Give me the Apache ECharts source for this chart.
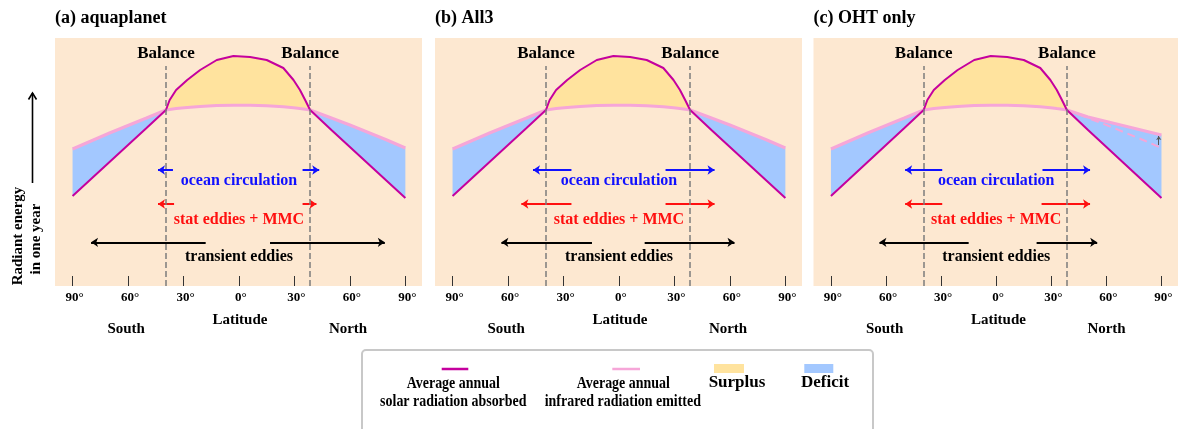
<!DOCTYPE html>
<html>
<head>
<meta charset="utf-8">
<script src="https://cdn.jsdelivr.net/npm/echarts@6/dist/echarts.min.js"></script>
<style>
  html, body { margin: 0; padding: 0; background: #fff; }
  #main { width: 1178px; height: 429px; }
</style>
</head>
<body>
<div id="main"></div>
<script>
// latitude samples (deg, south negative) shared by every curve
const latitudes = [-90, -80, -70, -60, -50, -39.5, -37.5, -34, -28, -21, -12, -3, 6, 15, 24, 29.5, 33, 35.8, 38.5, 50, 60, 70, 80, 90];
// schematic radiant energy (arbitrary units)
const solarAbsorbed   = [90, 107, 124, 141, 158, 176, 186, 196, 206, 216, 226, 230, 229, 226, 218, 206, 196, 186, 176, 156, 139, 122, 105, 88];
const infraredEmitted = [137, 145, 153, 160.5, 168, 176, 176.6, 177.4, 178.6, 179.6, 180.4, 180.8, 180.8, 180.2, 179.2, 178.3, 177.4, 176.7, 176, 168, 161, 153.5, 146, 138];
// OHT only: emission raised in the northern high latitudes
const infraredOHT     = [137, 145, 153, 160.5, 168, 176, 176.6, 177.4, 178.6, 179.6, 180.4, 180.8, 180.8, 180.2, 179.2, 178.3, 177.4, 176.7, 176, 169, 164.5, 160, 155.5, 151];

const tickLats = [-90, -60, -30, 0, 30, 60, 90];
const balanceLats = [-39.5, 38.5];
const panelTitles = ['(a) aquaplanet', '(b) All3', '(c) OHT only'];

// transport arrows [from, to] in latitude, per panel: [south, north]
const oceanArrows = [
  [[-35.7, -43.8], [34.4, 43.4]],
  [[-25.7, -46.5], [25.2, 51.7]],
  [[-29.4, -49.6], [25.2, 51.1]]
];
const eddyArrows = [
  [[-35.1, -43.8], [34.4, 41.9]],
  [[-25.7, -52.8], [25.2, 51.7]],
  [[-29.4, -49.6], [24.7, 51.1]]
];
const transientArrows = [
  [[-18, -80], [16.8, 78.9]],
  [[-14.6, -63.6], [13.9, 62.5]],
  [[-15, -63.6], [22, 55]]
];
const arrowLevels = { ocean: 116, eddy: 82, transient: 43.7 };
const textLevels = { ocean: 105, eddy: 66, transient: 28.7 };

const SERIF = '"Liberation Serif", "Times New Roman", serif';
const C_SOLAR = '#C5009E';
const C_IR = '#F6A6D8';
const C_SURPLUS = '#FFE39E';
const C_DEFICIT = '#A3C8FF';
const C_BG = '#FDE8D1';

const gridLefts = [55, 435, 813.5];
const gridTop = 38, gridWidth = 367, gridHeight = 248;
const xMin = -99.5, xMax = 99;
const pxPerDeg = gridWidth / (xMax - xMin);

const chart = echarts.init(document.getElementById('main'));

function zip(xs, ys) {
  return xs.map((x, i) => [x, ys[i]]);
}

function fillSeries(gi, upper, lower, color) {
  return {
    type: 'custom',
    xAxisIndex: gi,
    yAxisIndex: gi,
    silent: true,
    z: 1,
    data: [0],
    renderItem: function (params, api) {
      const pts = [];
      for (let i = 0; i < latitudes.length; i++) pts.push(api.coord([latitudes[i], upper[i]]));
      for (let i = latitudes.length - 1; i >= 0; i--) pts.push(api.coord([latitudes[i], lower[i]]));
      return { type: 'polygon', shape: { points: pts }, style: { fill: color } };
    }
  };
}

// text placed at a data position
function labelSeries(gi, items) {
  return {
    type: 'custom',
    xAxisIndex: gi,
    yAxisIndex: gi,
    silent: true,
    z: 5,
    data: items.map(t => [t.lat, t.value]),
    renderItem: function (params, api) {
      const p = api.coord([api.value(0), api.value(1)]);
      const t = items[params.dataIndex];
      return {
        type: 'text', x: p[0], y: p[1],
        style: { text: t.text, fill: t.color, fontFamily: SERIF, fontWeight: 'bold', fontSize: 16, align: 'center', verticalAlign: 'middle' }
      };
    }
  };
}

const grids = [], xAxes = [], yAxes = [], series = [], graphics = [];

for (let gi = 0; gi < 3; gi++) {
  const ir = gi === 2 ? infraredOHT : infraredEmitted;
  grids.push({
    left: gridLefts[gi], top: gridTop, width: gridWidth, height: gridHeight,
    show: true, backgroundColor: C_BG, borderWidth: 0
  });
  xAxes.push({
    type: 'value', gridIndex: gi, min: xMin, max: xMax, position: 'bottom',
    splitLine: { show: false },
    axisLine: { show: false },
    axisTick: { show: true, inside: true, length: 10, customValues: tickLats, lineStyle: { color: '#333', width: 1 } },
    axisLabel: {
      customValues: tickLats, margin: 5, padding: [0, 0, 0, 4],
      formatter: v => Math.abs(v) + '°',
      color: '#000', fontFamily: SERIF, fontWeight: 'bold', fontSize: 13
    }
  });
  yAxes.push({ type: 'value', gridIndex: gi, min: 0, max: 248, show: false });

  const upperS = solarAbsorbed.map((s, i) => Math.max(s, ir[i]));
  const lowerD = solarAbsorbed.map((s, i) => Math.min(s, ir[i]));
  series.push(fillSeries(gi, upperS, ir, C_SURPLUS));
  series.push(fillSeries(gi, ir, lowerD, C_DEFICIT));

  if (gi === 2) {
    // original emission curve, dashed
    const k = latitudes.indexOf(38.5);
    series.push({
      type: 'line', xAxisIndex: gi, yAxisIndex: gi, silent: true, z: 2,
      data: zip(latitudes.slice(k), infraredEmitted.slice(k)),
      symbol: 'none',
      lineStyle: { color: C_IR, width: 2, type: [8, 5] }
    });
    series.push({
      type: 'lines', coordinateSystem: 'cartesian2d', xAxisIndex: gi, yAxisIndex: gi, silent: true, z: 4,
      symbol: ['none', 'arrow'], symbolSize: 4,
      lineStyle: { width: 1, opacity: 1, color: '#555' },
      data: [{ coords: [[88.5, 141], [88.5, 150]] }]
    });
  }

  series.push({
    type: 'line', xAxisIndex: gi, yAxisIndex: gi, silent: true, z: 3,
    data: zip(latitudes, ir), symbol: 'none',
    lineStyle: { color: C_IR, width: 3 }
  });
  series.push({
    type: 'line', xAxisIndex: gi, yAxisIndex: gi, silent: true, z: 3,
    data: zip(latitudes, solarAbsorbed), symbol: 'none',
    lineStyle: { color: C_SOLAR, width: 2 },
    markLine: {
      silent: true, symbol: 'none', animation: false,
      lineStyle: { color: '#7c7c7c', type: [6, 3], width: 1.5 },
      label: {
        show: true, position: 'end', formatter: 'Balance', distance: 4,
        color: '#000', fontFamily: SERIF, fontWeight: 'bold', fontSize: 17
      },
      data: balanceLats.map(l => [{ coord: [l, 0] }, { coord: [l, 220] }])
    }
  });

  const arrows = [];
  oceanArrows[gi].forEach(a => arrows.push({ coords: [[a[0], arrowLevels.ocean], [a[1], arrowLevels.ocean]], lineStyle: { color: '#1010ff' } }));
  eddyArrows[gi].forEach(a => arrows.push({ coords: [[a[0], arrowLevels.eddy], [a[1], arrowLevels.eddy]], lineStyle: { color: '#ff1010' } }));
  transientArrows[gi].forEach(a => arrows.push({ coords: [[a[0], arrowLevels.transient], [a[1], arrowLevels.transient]], lineStyle: { color: '#000' } }));
  series.push({
    type: 'lines', coordinateSystem: 'cartesian2d', xAxisIndex: gi, yAxisIndex: gi, silent: true, z: 4,
    symbol: ['none', 'arrow'], symbolSize: 7,
    lineStyle: { width: 2, opacity: 1 },
    data: arrows
  });

  series.push(labelSeries(gi, [
    { text: 'ocean circulation', lat: 0, value: textLevels.ocean, color: '#1010ff' },
    { text: 'stat eddies + MMC', lat: 0, value: textLevels.eddy, color: '#ff1010' },
    { text: 'transient eddies', lat: 0, value: textLevels.transient, color: '#000' }
  ]));

  const px = lat => gridLefts[gi] + (lat - xMin) * pxPerDeg;
  graphics.push({ type: 'text', x: gridLefts[gi], y: 18, style: { text: panelTitles[gi], fill: '#000', fontFamily: SERIF, fontWeight: 'bold', fontSize: 18, verticalAlign: 'middle' } });
  graphics.push({ type: 'text', x: px(-61), y: 329, style: { text: 'South', fill: '#000', fontFamily: SERIF, fontWeight: 'bold', fontSize: 15, align: 'center', verticalAlign: 'middle' } });
  graphics.push({ type: 'text', x: px(0.5), y: 320, style: { text: 'Latitude', fill: '#000', fontFamily: SERIF, fontWeight: 'bold', fontSize: 15, align: 'center', verticalAlign: 'middle' } });
  graphics.push({ type: 'text', x: px(59), y: 329, style: { text: 'North', fill: '#000', fontFamily: SERIF, fontWeight: 'bold', fontSize: 15, align: 'center', verticalAlign: 'middle' } });
}

// y-axis title with arrow
graphics.push({ type: 'text', x: 18.5, y: 236, rotation: Math.PI / 2, style: { text: 'Radiant energy', fill: '#000', fontFamily: SERIF, fontWeight: 'bold', fontSize: 15, align: 'center', verticalAlign: 'middle' } });
graphics.push({ type: 'text', x: 36, y: 239, rotation: Math.PI / 2, style: { text: 'in one year', fill: '#000', fontFamily: SERIF, fontWeight: 'bold', fontSize: 15, align: 'center', verticalAlign: 'middle' } });
graphics.push({ type: 'line', shape: { x1: 32.5, y1: 183, x2: 32.5, y2: 93 }, style: { stroke: '#000', lineWidth: 1.6 } });
graphics.push({ type: 'polyline', shape: { points: [[28.5, 99.5], [32.5, 93], [36.5, 99.5]] }, style: { stroke: '#000', lineWidth: 1.6, fill: null } });

// legend box
graphics.push({ type: 'rect', shape: { x: 362, y: 350, width: 511, height: 100, r: 4 }, style: { fill: '#fff', stroke: '#c8c8c8', lineWidth: 2 } });
graphics.push({ type: 'line', shape: { x1: 441.7, y1: 369, x2: 468.3, y2: 369 }, style: { stroke: C_SOLAR, lineWidth: 2.5 } });
graphics.push({ type: 'line', shape: { x1: 612.3, y1: 369, x2: 640, y2: 369 }, style: { stroke: C_IR, lineWidth: 2.5 } });
graphics.push({ type: 'rect', shape: { x: 714, y: 364, width: 30, height: 9 }, style: { fill: C_SURPLUS } });
graphics.push({ type: 'rect', shape: { x: 804.3, y: 364, width: 29, height: 9 }, style: { fill: C_DEFICIT } });
const legendText = [
  ['Average annual', 453.3, 383.3], ['solar radiation absorbed', 453.3, 401.7],
  ['Average annual', 623.3, 383.3], ['infrared radiation emitted', 622.8, 401.7]
];
legendText.forEach(t => graphics.push({
  type: 'text', x: t[1], y: t[2], scaleX: 0.82,
  style: { text: t[0], fill: '#000', fontFamily: SERIF, fontWeight: 'bold', fontSize: 17, align: 'center', verticalAlign: 'middle' }
}));
graphics.push({ type: 'text', x: 737, y: 382.7, style: { text: 'Surplus', fill: '#000', fontFamily: SERIF, fontWeight: 'bold', fontSize: 17, align: 'center', verticalAlign: 'middle' } });
graphics.push({ type: 'text', x: 825, y: 382.7, style: { text: 'Deficit', fill: '#000', fontFamily: SERIF, fontWeight: 'bold', fontSize: 17, align: 'center', verticalAlign: 'middle' } });

chart.setOption({
  animation: false,
  backgroundColor: '#fff',
  grid: grids,
  xAxis: xAxes,
  yAxis: yAxes,
  series: series,
  graphic: graphics
});
</script>
</body>
</html>
